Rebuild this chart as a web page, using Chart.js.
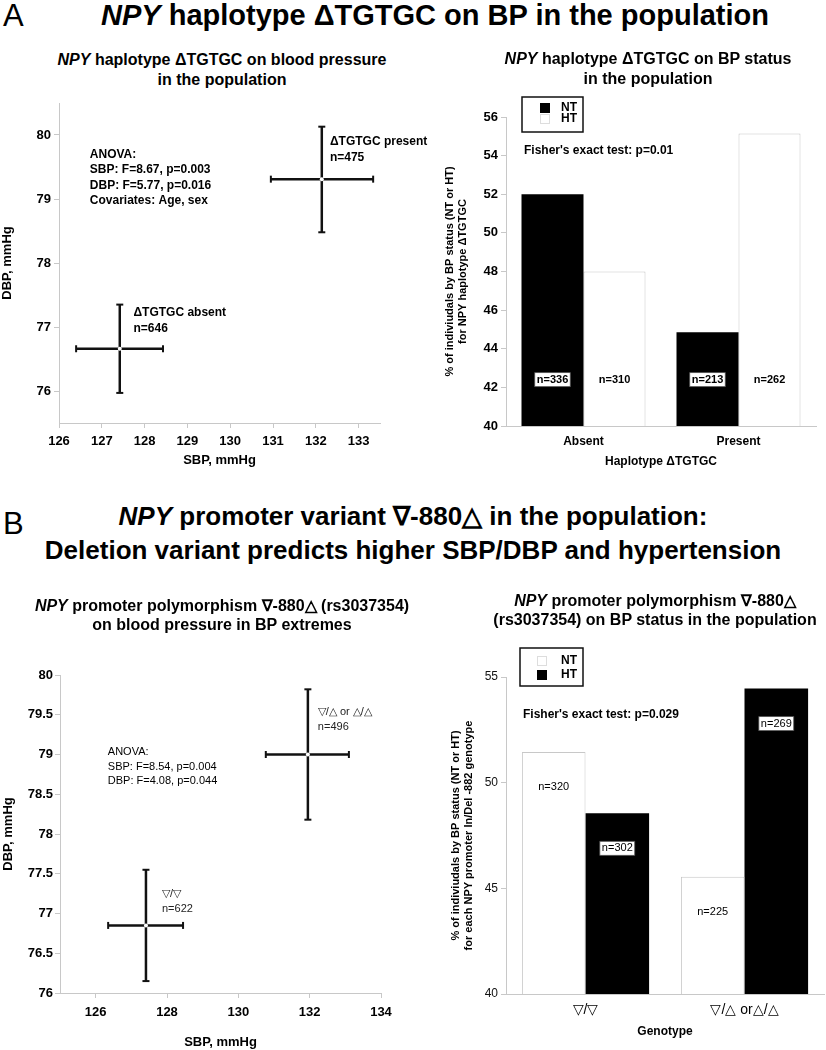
<!DOCTYPE html>
<html>
<head>
<meta charset="utf-8">
<script src="https://cdn.jsdelivr.net/npm/chart.js@4.4.1/dist/chart.umd.min.js"></script>
<style>
  body { margin: 0; background: #fff; width: 826px; height: 1050px; position: relative; overflow: hidden;
         font-family: "Liberation Sans", Arial, Helvetica, sans-serif; color: #000; }
  canvas { position: absolute; }
  .letter { position: absolute; left: 3px; font-size: 31px; line-height: 32px; }
  .main { position: absolute; left: 0; width: 826px; text-align: center; font-weight: bold; font-size: 26px; line-height: 34px; white-space: nowrap; }
  .sub { position: absolute; width: 440px; text-align: center; font-weight: bold; font-size: 16px; line-height: 19px; white-space: nowrap; }
</style>
</head>
<body>
<canvas id="scatterA" width="450" height="390" style="left:0;top:90px"></canvas>
<canvas id="barA" width="413" height="390" style="left:413px;top:90px"></canvas>
<canvas id="scatterB" width="413" height="410" style="left:0;top:640px"></canvas>
<canvas id="barB" width="413" height="450" style="left:413px;top:600px"></canvas>

<div class="letter" style="top:0px">A</div>
<div class="main" style="top:-2px;font-size:29px;left:22px"><i>NPY</i> haplotype ΔTGTGC on BP in the population</div>
<div class="sub" style="left:2px;top:50px;line-height:20px"><i>NPY</i> haplotype ΔTGTGC on blood pressure<br>in the population</div>
<div class="sub" style="left:428px;top:49px;line-height:20px"><i>NPY</i> haplotype ΔTGTGC on BP status<br>in the population</div>

<div class="letter" style="top:508px">B</div>
<div class="main" style="top:499px"><i>NPY</i> promoter variant ∇-880△ in the population:<br>Deletion variant predicts higher SBP/DBP and hypertension</div>
<div class="sub" style="left:2px;top:596px"><i>NPY</i> promoter polymorphism ∇-880△ (rs3037354)<br>on blood pressure in BP extremes</div>
<div class="sub" style="left:435px;top:591px"><i>NPY</i> promoter polymorphism ∇-880△<br>(rs3037354) on BP status in the population</div>

<script>
// A: haplotype ΔTGTGC, mean SBP/DBP with error bars
const groupsA = ["ΔTGTGC absent", "ΔTGTGC present"];
const nA = [646, 475];
const sbpA = [127.42, 132.14];
const sbpLowA = [126.4, 130.95];
const sbpHighA = [128.43, 133.34];
const dbpA = [76.66, 79.31];
const dbpLowA = [75.97, 78.48];
const dbpHighA = [77.35, 80.13];
const sbpTicksA = [126, 127, 128, 129, 130, 131, 132, 133];
const dbpTicksA = [76, 77, 78, 79, 80];

// A: BP status by haplotype
const haploCats = ["Absent", "Present"];
const ntPctA = [52.0, 44.85];
const htPctA = [48.0, 55.15];
const ntNA = [336, 213];
const htNA = [310, 262];
const pctTicksA = [40, 42, 44, 46, 48, 50, 52, 54, 56];

// B: promoter variant, mean SBP/DBP with error bars
const groupsB = ["▽/▽", "▽/△ or △/△"];
const nB = [622, 496];
const sbpB = [127.41, 131.95];
const sbpLowB = [126.35, 130.77];
const sbpHighB = [128.45, 133.1];
const dbpB = [76.85, 79.0];
const dbpLowB = [76.15, 78.18];
const dbpHighB = [77.55, 79.82];
const sbpTicksB = [126, 128, 130, 132, 134];
const dbpTicksB = [76, 76.5, 77, 77.5, 78, 78.5, 79, 79.5, 80];

// B: BP status by genotype
const genoCats = ["▽/▽", "▽/△ or△/△"];
const ntPctB = [51.45, 45.55];
const htPctB = [48.55, 54.45];
const ntNB = [320, 225];
const htNB = [302, 269];
const pctTicksB = [40, 45, 50, 55];

const FONT = '"Liberation Sans", Arial, Helvetica, sans-serif';
const axisGray = "#c8c8c8";
Chart.defaults.font.family = FONT;
Chart.defaults.color = "#000";

// error bar crosses, drawn as short line datasets
function crossDatasets(x, xLo, xHi, y, yLo, yHi) {
  const sets = [];
  x.forEach((_, i) => {
    sets.push({ data: [{ x: xLo[i], y: y[i] }, { x: xHi[i], y: y[i] }], pointRotation: 90 });
    sets.push({ data: [{ x: x[i], y: yLo[i] }, { x: x[i], y: yHi[i] }], pointRotation: 0 });
  });
  return sets
    .map((s) => ({
      ...s,
      showLine: true,
      borderColor: "#111",
      borderWidth: 2.5,
      pointStyle: "line",
      pointRadius: 3.5,
      pointBorderWidth: 2,
      pointBorderColor: "#111",
      clip: false,
      order: 1,
    }))
    .concat([{
      data: x.map((v, i) => ({ x: v, y: y[i] })),
      pointRadius: 2,
      backgroundColor: "#fff",
      borderWidth: 0,
      order: 0,
    }]);
}

// text blocks placed in data coordinates
function makeNotes(texts) {
  return {
    id: "notes",
    afterDatasetsDraw(chart) {
      const ctx = chart.ctx;
      ctx.save();
      ctx.textAlign = "left";
      ctx.textBaseline = "middle";
      texts.forEach((t) => {
        ctx.font = t.font;
        ctx.fillStyle = t.color || "#000";
        const px = chart.scales.x.getPixelForValue(t.x);
        const py = chart.scales.y.getPixelForValue(t.y);
        t.lines.forEach((line, i) => ctx.fillText(line, px, py + i * t.gap));
      });
      ctx.restore();
    },
  };
}

// boxed legend + test note, placed relative to the chart area
function makeBarExtras(cfg) {
  return {
    id: "barExtras",
    afterDraw(chart) {
      const ctx = chart.ctx;
      const area = chart.chartArea;
      const bx = area.left + cfg.box[0];
      const by = area.top + cfg.box[1];
      ctx.save();
      ctx.fillStyle = "#fff";
      ctx.fillRect(bx, by, cfg.box[2], cfg.box[3]);
      ctx.strokeStyle = "#111";
      ctx.lineWidth = 1.5;
      ctx.strokeRect(bx, by, cfg.box[2], cfg.box[3]);
      ctx.font = "bold 12px " + FONT;
      ctx.textBaseline = "middle";
      chart.data.datasets.forEach((ds, i) => {
        const sy = by + cfg.rows[i];
        ctx.fillStyle = ds.backgroundColor;
        ctx.fillRect(bx + cfg.swatchX, sy - 5, 10, 10);
        if (ds.backgroundColor === "#fff") {
          ctx.strokeStyle = "#ddd";
          ctx.lineWidth = 1;
          ctx.strokeRect(bx + cfg.swatchX + 0.5, sy - 4.5, 9, 9);
        }
        ctx.fillStyle = "#000";
        ctx.fillText(ds.label, bx + cfg.textX, sy);
      });
      ctx.font = "bold 12px " + FONT;
      ctx.fillText(cfg.note, area.left + cfg.noteAt[0], area.top + cfg.noteAt[1]);

      // n= labels inside the bars
      ctx.font = cfg.countFont;
      ctx.textAlign = "center";
      chart.data.datasets.forEach((ds, i) => {
        chart.getDatasetMeta(i).data.forEach((bar, j) => {
          const text = "n=" + ds.counts[j];
          const py = cfg.countValue != null ? chart.scales.y.getPixelForValue(cfg.countValue) : bar.y + cfg.countBelow;
          if (ds.backgroundColor === "#000") {
            const w = ctx.measureText(text).width + 4;
            ctx.fillStyle = "#fff";
            ctx.fillRect(bar.x - w / 2, py - 7, w, 14);
            ctx.strokeStyle = "#555";
            ctx.lineWidth = 0.8;
            ctx.strokeRect(bar.x - w / 2, py - 7, w, 14);
          }
          ctx.fillStyle = "#000";
          ctx.fillText(text, bar.x, py);
        });
      });
      ctx.restore();
    },
  };
}

function linearAxis(min, max, tickValues, size, opts) {
  return {
    type: "linear",
    min: min,
    max: max,
    afterBuildTicks: (s) => { s.ticks = tickValues.map((v) => ({ value: v })); },
    afterFit: (s) => { if (opts.height) s.height = opts.height; if (opts.width) s.width = opts.width; },
    ticks: { font: { size: size.font, weight: size.weight }, padding: size.pad, color: "#000", callback: (v) => String(v) },
    grid: { drawOnChartArea: false, tickLength: 5, color: axisGray },
    border: { color: axisGray },
    title: { display: true, text: opts.title, font: { size: 13, weight: "bold" }, padding: opts.titlePad },
  };
}

const baseOpts = {
  responsive: false,
  animation: false,
  events: [],
  plugins: { legend: { display: false }, tooltip: { enabled: false } },
};

// ---- A left: scatter with error bars
new Chart(document.getElementById("scatterA"), {
  type: "scatter",
  data: { datasets: crossDatasets(sbpA, sbpLowA, sbpHighA, dbpA, dbpLowA, dbpHighA) },
  options: {
    ...baseOpts,
    layout: { padding: { top: 13, right: 70, left: 0, bottom: 0 } },
    scales: {
      x: linearAxis(126, 133.5, sbpTicksA, { font: 13, weight: "bold", pad: 6 },
        { height: 57, title: "SBP, mmHg", titlePad: { top: 0, bottom: 12 } }),
      y: linearAxis(75.5, 80.5, dbpTicksA, { font: 13, weight: "bold", pad: 3 },
        { width: 59, title: "DBP, mmHg", titlePad: { top: 0, bottom: 0 } }),
    },
  },
  plugins: [makeNotes([
    { x: 126.72, y: 79.7, gap: 15.5, font: "bold 12px " + FONT,
      lines: ["ANOVA:", "SBP: F=8.67, p=0.003", "DBP: F=5.77, p=0.016", "Covariates: Age, sex"] },
    { x: 132.33, y: 79.89, gap: 16, font: "bold 12px " + FONT, lines: [groupsA[1], "n=" + nA[1]] },
    { x: 127.74, y: 77.22, gap: 16, font: "bold 12px " + FONT, lines: [groupsA[0], "n=" + nA[0]] },
  ])],
});

// ---- A right: bars
new Chart(document.getElementById("barA"), {
  type: "bar",
  data: {
    labels: haploCats,
    datasets: [
      { label: "NT", data: ntPctA, counts: ntNA, backgroundColor: "#000", borderWidth: 0 },
      { label: "HT", data: htPctA, counts: htNA, backgroundColor: "#fff", borderColor: axisGray, borderWidth: 1 },
    ],
  },
  options: {
    ...baseOpts,
    categoryPercentage: 0.8,
    barPercentage: 1.0,
    layout: { padding: { top: 27, right: 10, left: 0, bottom: 0 } },
    scales: {
      x: {
        afterFit: (s) => { s.height = 54; },
        ticks: { font: { size: 12, weight: "bold" }, padding: 8, color: "#000" },
        grid: { drawOnChartArea: false, drawTicks: false, color: axisGray },
        border: { color: axisGray },
        title: { display: true, text: "Haplotype ΔTGTGC", font: { size: 12, weight: "bold" }, padding: { top: 0, bottom: 10.8 } },
      },
      y: {
        min: 40,
        max: 56,
        afterBuildTicks: (s) => { s.ticks = pctTicksA.map((v) => ({ value: v })); },
        afterFit: (s) => { s.width = 93; },
        ticks: { font: { size: 13, weight: "bold" }, padding: 3, color: "#000" },
        grid: { drawOnChartArea: false, tickLength: 5, color: axisGray },
        border: { color: axisGray },
        title: {
          display: true,
          text: ["% of indiviudals by BP status (NT or HT)", "for NPY haplotype ΔTGTGC"],
          font: { size: 11, weight: "bold" },
          padding: { top: 30, bottom: 0 },
        },
      },
    },
  },
  plugins: [makeBarExtras({
    box: [16, -20, 61, 35], rows: [11, 22], swatchX: 18, textX: 39,
    note: "Fisher's exact test: p=0.01", noteAt: [18, 34],
    countFont: "bold 11px " + FONT, countValue: 42.4,
  })],
});

// ---- B left: scatter with error bars
new Chart(document.getElementById("scatterB"), {
  type: "scatter",
  data: { datasets: crossDatasets(sbpB, sbpLowB, sbpHighB, dbpB, dbpLowB, dbpHighB) },
  options: {
    ...baseOpts,
    layout: { padding: { top: 35, right: 32, left: 0, bottom: 0 } },
    scales: {
      x: linearAxis(125, 134, sbpTicksB, { font: 13, weight: "bold", pad: 7 },
        { height: 57, title: "SBP, mmHg", titlePad: { top: 0, bottom: 0 } }),
      y: linearAxis(76, 80, dbpTicksB, { font: 13, weight: "bold", pad: 2 },
        { width: 60, title: "DBP, mmHg", titlePad: { top: 1, bottom: 0 } }),
    },
  },
  plugins: [makeNotes([
    { x: 126.34, y: 79.03, gap: 14.5, font: "11px " + FONT,
      lines: ["ANOVA:", "SBP: F=8.54, p=0.004", "DBP: F=4.08, p=0.044"] },
    { x: 132.23, y: 79.53, gap: 15, font: "11px " + FONT, color: "#222", lines: [groupsB[1], "n=" + nB[1]] },
    { x: 127.86, y: 77.25, gap: 15, font: "11px " + FONT, color: "#222", lines: [groupsB[0], "n=" + nB[0]] },
  ])],
});

// ---- B right: bars
new Chart(document.getElementById("barB"), {
  type: "bar",
  data: {
    labels: genoCats,
    datasets: [
      { label: "NT", data: ntPctB, counts: ntNB, backgroundColor: "#fff", borderColor: axisGray, borderWidth: 1 },
      { label: "HT", data: htPctB, counts: htNB, backgroundColor: "#000", borderWidth: 0 },
    ],
  },
  options: {
    ...baseOpts,
    categoryPercentage: 0.8,
    barPercentage: 1.0,
    layout: { padding: { top: 77, right: 2, left: 0, bottom: 0 } },
    scales: {
      x: {
        afterFit: (s) => { s.height = 56; },
        ticks: { font: { size: 14 }, padding: 8, color: "#000" },
        grid: { drawOnChartArea: false, drawTicks: false, color: axisGray },
        border: { color: axisGray },
        title: { display: true, text: "Genotype", font: { size: 12, weight: "bold" }, padding: { top: 0, bottom: 10.8 } },
      },
      y: {
        min: 40,
        max: 55,
        afterBuildTicks: (s) => { s.ticks = pctTicksB.map((v) => ({ value: v })); },
        afterFit: (s) => { s.width = 93; },
        ticks: { font: { size: 12 }, padding: 3, color: "#111" },
        grid: { drawOnChartArea: false, tickLength: 5, color: axisGray },
        border: { color: axisGray },
        title: {
          display: true,
          text: ["% of indiviudals by BP status (NT or HT)", "for each NPY promoter In/Del -882 genotype"],
          font: { size: 11, weight: "bold" },
          padding: { top: 36.4, bottom: 0 },
        },
      },
    },
  },
  plugins: [makeBarExtras({
    box: [14, -29, 63, 38], rows: [13, 27], swatchX: 17, textX: 41,
    note: "Fisher's exact test: p=0.029", noteAt: [17, 38],
    countFont: "11px " + FONT, countBelow: 35,
  })],
});
</script>
</body>
</html>
